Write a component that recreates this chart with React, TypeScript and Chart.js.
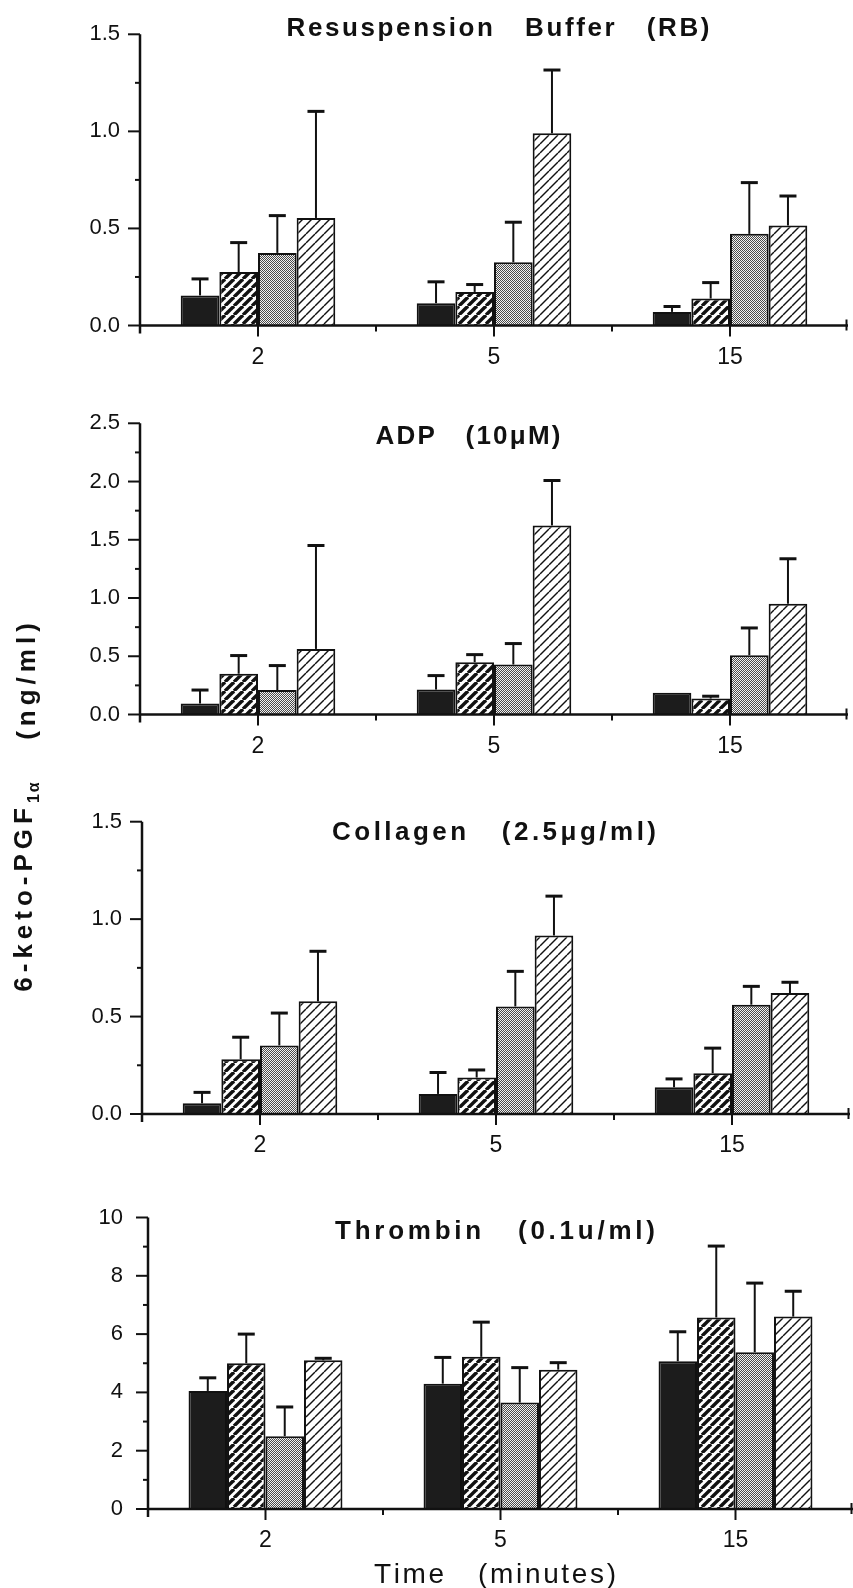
import React, { useEffect, useRef } from 'react';
import { Chart, registerables } from 'chart.js';

Chart.register(...registerables);
Chart.defaults.font.family = '"Liberation Sans", Arial, sans-serif';
Chart.defaults.color = '#111';

// ---------- data ----------
const timeLabels = ['2', '5', '15'];
const seriesNames = ['Group 1', 'Group 2', 'Group 3', 'Group 4'];

const rbMeans = [
  [0.155, 0.115, 0.07],
  [0.275, 0.173, 0.139],
  [0.374, 0.326, 0.472],
  [0.554, 0.99, 0.515],
];
const rbErrors = [
  [0.085, 0.11, 0.028],
  [0.152, 0.038, 0.082],
  [0.192, 0.206, 0.264],
  [0.549, 0.326, 0.152],
];

const adpMeans = [
  [0.094, 0.214, 0.186],
  [0.35, 0.449, 0.137],
  [0.21, 0.429, 0.509],
  [0.563, 1.623, 0.951],
];
const adpErrors = [
  [0.116, 0.12, 0],
  [0.156, 0.065, 0.02],
  [0.21, 0.18, 0.234],
  [0.888, 0.386, 0.386],
];

const collagenMeans = [
  [0.055, 0.103, 0.137],
  [0.281, 0.187, 0.209],
  [0.352, 0.552, 0.561],
  [0.578, 0.916, 0.621],
];
const collagenErrors = [
  [0.056, 0.11, 0.043],
  [0.113, 0.039, 0.129],
  [0.166, 0.18, 0.094],
  [0.257, 0.202, 0.055],
];

const thrombinMeans = [
  [4.05, 4.3, 5.07],
  [5.0, 5.22, 6.57],
  [2.5, 3.65, 5.38],
  [5.1, 4.78, 6.6],
];
const thrombinErrors = [
  [0.45, 0.9, 1.01],
  [1.0, 1.19, 2.45],
  [1.0, 1.2, 2.37],
  [0.07, 0.24, 0.87],
];

const panelTitles = [
  'Resuspension   Buffer   (RB)',
  'ADP   (10\u03BCM)',
  'Collagen   (2.5\u03BCg/ml)',
  'Thrombin   (0.1u/ml)',
];
const xAxisTitle = 'Time   (minutes)';
const yAxisTitleMain = '6-keto-PGF';
const yAxisTitleSub = '1\u03B1';
const yAxisTitleUnit = '(ng/ml)';

// ---------- layout ----------
const W = 853;
const panels = [
  { title: panelTitles[0], means: rbMeans, errors: rbErrors, yMax: 1.5, yStep: 0.25, labelStep: 0.5, decimals: 1,
    top: 0, height: 385, plotTop: 34.3, baseline: 325.5, left: 140, right: 848, labelGap: 20,
    titleX: 498, titleY: 36, titleW: 423 },
  { title: panelTitles[1], means: adpMeans, errors: adpErrors, yMax: 2.5, yStep: 0.25, labelStep: 0.5, decimals: 1,
    top: 385, height: 390, plotTop: 38.3, baseline: 329.5, left: 140, right: 848, labelGap: 20,
    titleX: 468, titleY: 59, titleW: 185 },
  { title: panelTitles[2], means: collagenMeans, errors: collagenErrors, yMax: 1.5, yStep: 0.25, labelStep: 0.5, decimals: 1,
    top: 775, height: 390, plotTop: 46.7, baseline: 339, left: 142, right: 850, labelGap: 20,
    titleX: 494, titleY: 65, titleW: 324 },
  { title: panelTitles[3], means: thrombinMeans, errors: thrombinErrors, yMax: 10, yStep: 1, labelStep: 2, decimals: 0,
    top: 1165, height: 423, plotTop: 52.5, baseline: 344, left: 148, right: 853, labelGap: 25,
    titleX: 495, titleY: 74, titleW: 320, xTitle: xAxisTitle, xTitleX: 495, xTitleY: 418, xTitleW: 242 },
];

function makePatterns() {
  const mk = (size: number, draw: (c: CanvasRenderingContext2D, s: number) => void) => {
    const cv = document.createElement('canvas');
    cv.width = size; cv.height = size;
    const c = cv.getContext('2d')!;
    c.fillStyle = '#ffffff';
    c.fillRect(0, 0, size, size);
    draw(c, size);
    return c.createPattern(cv, 'repeat')!;
  };
  const hatch = (lw: number) => (c: CanvasRenderingContext2D, s: number) => {
    c.strokeStyle = '#111';
    c.lineWidth = lw;
    for (let k = -1; k <= 1; k++) {
      c.beginPath();
      c.moveTo(k * s, s);
      c.lineTo(k * s + s, 0);
      c.stroke();
    }
  };
  const dark = '#1c1c1c';
  const dense = mk(9, hatch(3.4));
  const dots = mk(2, (c) => {
    c.fillStyle = '#4a4a4a';
    c.fillRect(0, 0, 1, 1);
    c.fillRect(1, 1, 1, 1);
    c.fillStyle = '#f2f2f2';
    c.fillRect(1, 0, 1, 1);
    c.fillRect(0, 1, 1, 1);
  });
  const light = mk(9, hatch(1.4));
  return [dark, dense, dots, light];
}

function drawSpaced(ctx: CanvasRenderingContext2D, text: string, cx: number, y: number, width: number, font: string) {
  ctx.save();
  ctx.font = font;
  ctx.fillStyle = '#111';
  ctx.textBaseline = 'alphabetic';
  ctx.textAlign = 'left';
  const chars = Array.from(text);
  const widths = chars.map((ch) => ctx.measureText(ch).width);
  const natural = widths.reduce((a, b) => a + b, 0);
  const ls = chars.length > 1 ? (width - natural) / (chars.length - 1) : 0;
  let x = cx - width / 2;
  chars.forEach((ch, i) => {
    ctx.fillText(ch, x, y);
    x += widths[i] + ls;
  });
  ctx.restore();
}

function Panel({ p }: { p: any }) {
  const ref = useRef<HTMLCanvasElement>(null);
  useEffect(() => {
    const fills = makePatterns();
    const decor = {
      id: 'decor',
      afterDatasetsDraw(chart: any) {
        const ctx = chart.ctx as CanvasRenderingContext2D;
        const xs = chart.scales.x;
        const ys = chart.scales.y;
        ctx.save();
        ctx.strokeStyle = '#111';
        ctx.lineCap = 'butt';
        chart.data.datasets.forEach((ds: any, i: number) => {
          const meta = chart.getDatasetMeta(i);
          meta.data.forEach((bar: any, j: number) => {
            const err = ds.errors[j];
            if (!err) return;
            const topPx = ys.getPixelForValue(ds.data[j] + err);
            ctx.lineWidth = 2;
            ctx.beginPath();
            ctx.moveTo(bar.x, bar.y);
            ctx.lineTo(bar.x, topPx);
            ctx.stroke();
            ctx.lineWidth = 3;
            ctx.beginPath();
            ctx.moveTo(bar.x - 8.5, topPx);
            ctx.lineTo(bar.x + 8.5, topPx);
            ctx.stroke();
          });
        });
        const base = ys.getPixelForValue(0);
        const yTop = ys.getPixelForValue(ys.max);
        ctx.lineWidth = 2.5;
        ctx.beginPath();
        ctx.moveTo(xs.left, base);
        ctx.lineTo(xs.right, base);
        ctx.stroke();
        ctx.beginPath();
        ctx.moveTo(ys.right, yTop);
        ctx.lineTo(ys.right, base + 8);
        ctx.stroke();
        ctx.lineWidth = 2;
        ys.ticks.forEach((t: any) => {
          const py = ys.getPixelForValue(t.value);
          const major = t.label !== '';
          ctx.beginPath();
          ctx.moveTo(ys.right - (major ? 12 : 5), py);
          ctx.lineTo(ys.right, py);
          ctx.stroke();
        });
        const n = xs.ticks.length;
        for (let i = 0; i < n; i++) {
          const px = xs.getPixelForValue(i);
          ctx.beginPath();
          ctx.moveTo(px, base);
          ctx.lineTo(px, base + 11);
          ctx.stroke();
        }
        for (let i = 1; i < n; i++) {
          const px = (xs.getPixelForValue(i - 1) + xs.getPixelForValue(i)) / 2;
          ctx.beginPath();
          ctx.moveTo(px, base);
          ctx.lineTo(px, base + 6);
          ctx.stroke();
        }
        ctx.beginPath();
        ctx.moveTo(xs.right - 1.5, base - 6);
        ctx.lineTo(xs.right - 1.5, base + 5);
        ctx.stroke();
        ctx.restore();
      },
      afterDraw(chart: any) {
        const ctx = chart.ctx as CanvasRenderingContext2D;
        drawSpaced(ctx, p.title, p.titleX, p.titleY, p.titleW, 'bold 26px "Liberation Sans", Arial, sans-serif');
        if (p.xTitle) {
          drawSpaced(ctx, p.xTitle, p.xTitleX, p.xTitleY, p.xTitleW, '28px "Liberation Sans", Arial, sans-serif');
        }
      },
    };

    const chart = new Chart(ref.current!, {
      type: 'bar',
      data: {
        labels: timeLabels,
        datasets: p.means.map((vals: number[], i: number) => ({
          label: seriesNames[i],
          data: vals,
          errors: p.errors[i],
          backgroundColor: fills[i],
          borderColor: '#111',
          borderWidth: 2,
          categoryPercentage: 0.655,
          barPercentage: 1,
        })) as any,
      },
      options: {
        responsive: false,
        animation: false,
        events: [],
        layout: { padding: { top: p.plotTop, right: W - p.right, bottom: 0, left: 0 } },
        plugins: {
          legend: { display: false },
          tooltip: { enabled: false },
          title: { display: false },
        },
        scales: {
          x: {
            type: 'category',
            offset: true,
            grid: { display: false, drawTicks: false },
            border: { display: false },
            ticks: { padding: 18, font: { size: 23 }, color: '#111', maxRotation: 0, autoSkip: false },
            afterFit: (s: any) => { s.height = p.height - p.baseline; },
          },
          y: {
            min: 0,
            max: p.yMax,
            grid: { display: false, drawTicks: false },
            border: { display: false },
            ticks: {
              stepSize: p.yStep,
              autoSkip: false,
              padding: p.labelGap,
              font: { size: 22 },
              color: '#111',
              callback: (v: any) => {
                const r = Number(v) / p.labelStep;
                return Math.abs(r - Math.round(r)) < 1e-6 ? Number(v).toFixed(p.decimals) : '';
              },
            },
            afterFit: (s: any) => { s.width = p.left; },
          },
        },
      } as any,
      plugins: [decor],
    });
    return () => chart.destroy();
  }, []);
  return (
    <canvas
      ref={ref}
      width={W}
      height={p.height}
      style={{ position: 'absolute', left: 0, top: p.top, width: W, height: p.height }}
    />
  );
}

const rotStyle: React.CSSProperties = {
  position: 'absolute',
  left: 26,
  transform: 'translate(-50%, -50%) rotate(-90deg)',
  whiteSpace: 'nowrap',
  font: 'bold 26px "Liberation Sans", Arial, sans-serif',
  letterSpacing: '5px',
  color: '#111',
  lineHeight: 1,
};

export default function App() {
  return (
    <div style={{ position: 'absolute', left: 0, top: 0, width: W, height: 1588, background: '#fff', overflow: 'hidden' }}>
      {panels.map((p, i) => (
        <Panel key={i} p={p} />
      ))}
      <div style={{ ...rotStyle, top: 886 }}>
        {yAxisTitleMain}
        <sub style={{ fontSize: 16, letterSpacing: '2px' }}>{yAxisTitleSub}</sub>
      </div>
      <div style={{ ...rotStyle, top: 679 }}>{yAxisTitleUnit}</div>
    </div>
  );
}
